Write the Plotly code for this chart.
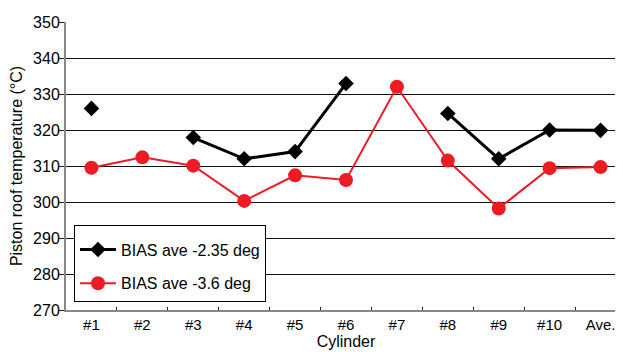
import plotly.graph_objects as go

categories = ["#1", "#2", "#3", "#4", "#5", "#6", "#7", "#8", "#9", "#10", "Ave."]
bias_235 = [326.0, None, 317.9, 312.0, 314.0, 332.9, None, 324.6, 312.0, 320.0, 319.9]
bias_36 = [309.5, 312.4, 310.1, 300.3, 307.4, 306.1, 332.0, 311.5, 298.2, 309.4, 309.7]
series_names = ["BIAS ave -2.35 deg", "BIAS ave -3.6 deg"]

fig = go.Figure()
fig.add_trace(go.Scatter(
    x=categories, y=bias_235, name=series_names[0], mode="lines+markers",
    line=dict(color="black", width=3), connectgaps=False,
    marker=dict(symbol="diamond", size=12, color="black"), legendgroup="a"))
fig.add_trace(go.Scatter(
    x=categories, y=bias_36, name=series_names[1], mode="lines+markers",
    line=dict(color="#ED1C24", width=2), connectgaps=False,
    marker=dict(symbol="circle", size=14, color="#ED1C24"), legendgroup="b"))

font_family = "Liberation Sans, Arial, sans-serif"
fig.update_layout(
    width=623, height=352,
    margin=dict(l=58, r=5, t=14, b=50),
    paper_bgcolor="white", plot_bgcolor="white",
    font=dict(family=font_family, size=16, color="black"),
    showlegend=True,
    legend=dict(x=0.0143, y=0.295, xanchor="left", yanchor="top",
                bgcolor="white", bordercolor="black", borderwidth=1,
                font=dict(size=16), tracegroupgap=10, itemwidth=36,
                title=dict(text=" ", font=dict(size=5))),
    xaxis=dict(type="category", range=[-0.5, 10.5], tickson="boundaries",
               ticks="inside", ticklen=3, tickcolor="#222", showgrid=False,
               showline=True, linecolor="#888", linewidth=2,
               title=dict(text="Cylinder", standoff=3, font=dict(size=16)),
               tickfont=dict(size=15)),
    yaxis=dict(range=[270, 350], dtick=10, showgrid=True, gridcolor="#111", gridwidth=1,
               showline=True, linecolor="#888", linewidth=2, ticks="outside",
               ticklen=5, tickcolor="#222", ticklabelstandoff=-4,
               zeroline=False, tickfont=dict(size=16),
               title=dict(text="Piston roof temperature (°C)", standoff=6, font=dict(size=16))),
)

fig.write_html("out.html")
